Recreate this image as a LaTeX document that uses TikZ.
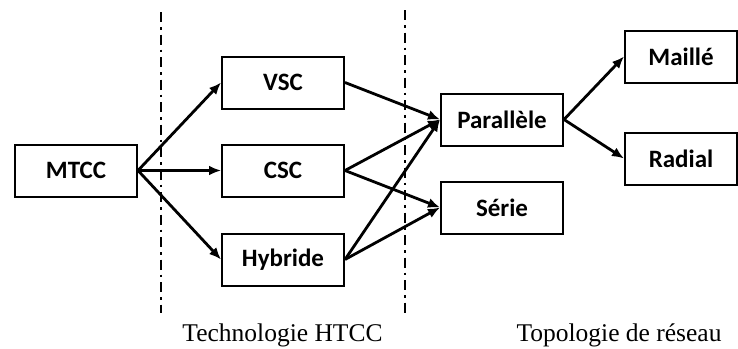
\documentclass[tikz,border=0pt]{standalone}
\usepackage{fontspec}
\setmainfont{Liberation Serif}
\newfontfamily\boxfont{Carlito}
\usetikzlibrary{arrows.meta}

\begin{document}
\begin{tikzpicture}[x=1pt,y=-1pt,
  blocbox/.style={draw, line width=2pt, minimum width=122pt, minimum height=52pt,
    inner sep=0pt, font=\boxfont\bfseries\fontsize{25}{29}\selectfont},
  fleche/.style={line width=2.8pt, -{Latex[length=12pt,width=10pt]}},
  separateur/.style={line width=2pt, dash pattern=on 10pt off 5pt on 2.5pt off 5pt},
  legende/.style={font=\fontsize{25.5}{30}\selectfont, inner sep=0pt, anchor=base}]
\useasboundingbox (0,0) rectangle (738,348);

% blocs
\node[blocbox] (mtcc) at (76,170.5) {MTCC};
\node[blocbox] (vsc) at (283,82.5) {VSC};
\node[blocbox] (csc) at (283,170.5) {CSC};
\node[blocbox] (hyb) at (283,259.5) {Hybride};
\node[blocbox] (par) at (502,119.5) {Parallèle};
\node[blocbox] (ser) at (502,207.5) {Série};
\node[blocbox, minimum width=112pt] (mai) at (681,56.5) {Maillé};
\node[blocbox, minimum width=112pt] (rad) at (681,158.5) {Radial};

% séparateurs
\coordinate (s1h) at (161,12);
\coordinate (s1b) at (161,313);
\coordinate (s2h) at (405,10);
\coordinate (s2b) at (405,313);
\draw[separateur] (s1h) -- (s1b);
\draw[separateur] (s2h) -- (s2b);

% liaisons
\draw[fleche] (mtcc.east) -- (vsc.west);
\draw[fleche] (mtcc.east) -- (csc.west);
\draw[fleche] (mtcc.east) -- (hyb.west);
\draw[fleche] (vsc.east) -- (par.west);
\draw[fleche] (csc.east) -- (par.west);
\draw[fleche] (csc.east) -- (ser.west);
\draw[fleche] (hyb.east) -- (par.west);
\draw[fleche] (hyb.east) -- (ser.west);
\draw[fleche] (par.east) -- (mai.west);
\draw[fleche] (par.east) -- (rad.west);

% légendes
\node[legende] (leg1) at (282.5,341) {Technologie HTCC};
\node[legende] (leg2) at (619,341) {Topologie de réseau};
\end{tikzpicture}
\end{document}
